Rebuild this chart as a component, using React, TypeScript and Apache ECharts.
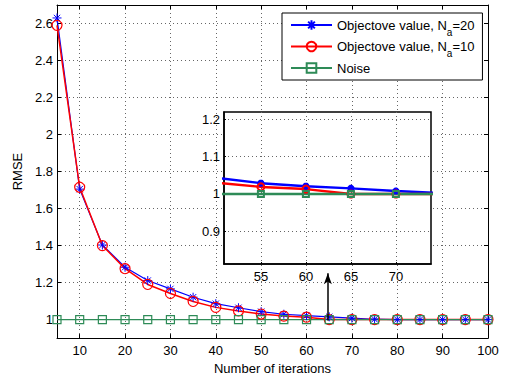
import React, { useEffect, useRef } from 'react';
import * as echarts from 'echarts';

const iterations = [5, 10, 15, 20, 25, 30, 35, 40, 45, 50, 55, 60, 65, 70, 75, 80, 85, 90, 95, 100];
const rmseNa20 = [2.63, 1.705, 1.403, 1.283, 1.211, 1.166, 1.121, 1.086, 1.064, 1.043, 1.029, 1.021, 1.015, 1.008, 1.002, 1.0, 1.0, 1.0, 1.0, 1.0];
const rmseNa10 = [2.59, 1.715, 1.4, 1.275, 1.19, 1.141, 1.098, 1.066, 1.047, 1.03, 1.019, 1.013, 1.0, 1.0, 1.0, 1.0, 1.0, 1.0, 1.0, 1.0];
const rmseNoise = [1, 1, 1, 1, 1, 1, 1, 1, 1, 1, 1, 1, 1, 1, 1, 1, 1, 1, 1, 1];

const seriesNames = ['Objectove value, N_a=20', 'Objectove value, N_a=10', 'Noise'];

const xTickValues = [10, 20, 30, 40, 50, 60, 70, 80, 90, 100];
const yTickValues = [1, 1.2, 1.4, 1.6, 1.8, 2, 2.2, 2.4, 2.6];
const insetXTickValues = [55, 60, 65, 70];
const insetYTickValues = [0.9, 1, 1.1, 1.2];

const arrowFrom = [64.7, 0.995];
const arrowTo = [64.7, 1.25];

const FONT = 'Liberation Sans, Arial, Helvetica, sans-serif';
const BLUE = '#0000ff';
const RED = '#ff0000';
const GREEN = '#2e8b57';
const GRIDLINE = { show: true, lineStyle: { color: '#666', width: 1, type: [1, 3] as any } };
const ASTERISK = 'path://M5,0L5,10M0,5L10,5M1.5,1.5L8.5,8.5M1.5,8.5L8.5,1.5';

function pairs(ys: number[]) {
  return iterations.map((x, i) => [x, ys[i]]);
}

export default function App() {
  const ref = useRef<HTMLDivElement>(null);
  useEffect(() => {
    document.body.style.margin = '0';
    if (!ref.current) return;
    const chart = echarts.init(ref.current, undefined, { renderer: 'svg' });

    const mainAxisCommon = {
      axisLine: { show: true, onZero: false, lineStyle: { color: '#000', width: 1 } },
    };

    const option: any = {
      animation: false,
      backgroundColor: '#fff',
      textStyle: { fontFamily: FONT },
      grid: [
        { left: 57, top: 5, width: 431, height: 337, show: false, z: 0 },
        { left: 224, top: 112, width: 207, height: 152, show: true, backgroundColor: '#fff', borderColor: '#000', borderWidth: 1.5, z: 1 },
      ],
      legend: {
        data: seriesNames,
        orient: 'vertical',
        left: 282,
        top: 13,
        padding: [0, 8, 0, 8],
        itemWidth: 41,
        itemHeight: 12,
        itemGap: -2.5,
        borderColor: '#000',
        borderWidth: 1,
        backgroundColor: '#fff',
        formatter: (name: string) => {
          const parts = name.split('_a');
          if (parts.length === 2) return `{b|${parts[0]}}{s|a}{b|${parts[1]}}`;
          return `{b|${name}}`;
        },
        textStyle: {
          fontFamily: FONT,
          fontSize: 13,
          color: '#000',
          lineHeight: 24,
          rich: {
            b: { fontFamily: FONT, fontSize: 13, color: '#000', lineHeight: 24, verticalAlign: 'middle' },
            s: { fontFamily: FONT, fontSize: 10, color: '#000', lineHeight: 8, verticalAlign: 'bottom' },
          },
        },
      },
      xAxis: [
        {
          type: 'value', gridIndex: 0, position: 'bottom', min: 5, max: 100, z: 0,
          ...mainAxisCommon,
          name: 'Number of iterations', nameLocation: 'middle', nameGap: 20,
          nameTextStyle: { fontFamily: FONT, fontSize: 13, color: '#000' },
          axisTick: { show: true, inside: true, length: 4, customValues: xTickValues, lineStyle: { color: '#000' } },
          axisLabel: { show: true, customValues: xTickValues, margin: 6, fontFamily: FONT, fontSize: 13, color: '#000' },
          splitLine: GRIDLINE,
        },
        {
          type: 'value', gridIndex: 0, position: 'top', min: 5, max: 100, z: 0,
          ...mainAxisCommon,
          axisTick: { show: true, inside: true, length: 4, customValues: xTickValues, lineStyle: { color: '#000' } },
          axisLabel: { show: false },
          splitLine: { show: false },
        },
        {
          type: 'value', gridIndex: 1, position: 'bottom', min: 50.9, max: 73.9, z: 1,
          axisLine: { show: true, onZero: false, lineStyle: { color: '#000', width: 1.5 } },
          axisTick: { show: true, inside: true, length: 2, customValues: insetXTickValues, lineStyle: { color: '#000' } },
          axisLabel: { show: true, customValues: insetXTickValues, margin: 6, fontFamily: FONT, fontSize: 13, color: '#000' },
          splitLine: GRIDLINE,
        },
      ],
      yAxis: [
        {
          type: 'value', gridIndex: 0, position: 'left', min: 0.9, max: 2.7, z: 0,
          ...mainAxisCommon,
          name: 'RMSE', nameLocation: 'middle', nameGap: 28,
          nameTextStyle: { fontFamily: FONT, fontSize: 13, color: '#000' },
          axisTick: { show: true, inside: true, length: 4, customValues: yTickValues, lineStyle: { color: '#000' } },
          axisLabel: { show: true, customValues: yTickValues, margin: 4, fontFamily: FONT, fontSize: 13, color: '#000' },
          splitLine: GRIDLINE,
        },
        {
          type: 'value', gridIndex: 0, position: 'right', min: 0.9, max: 2.7, z: 0,
          ...mainAxisCommon,
          axisTick: { show: true, inside: true, length: 4, customValues: yTickValues, lineStyle: { color: '#000' } },
          axisLabel: { show: false },
          splitLine: { show: false },
        },
        {
          type: 'value', gridIndex: 1, position: 'left', min: 0.813, max: 1.219, z: 1,
          axisLine: { show: true, onZero: false, lineStyle: { color: '#000', width: 1.5 } },
          axisTick: { show: true, inside: true, length: 2, customValues: insetYTickValues, lineStyle: { color: '#000' } },
          axisLabel: { show: true, customValues: insetYTickValues, margin: 4, fontFamily: FONT, fontSize: 13, color: '#000' },
          splitLine: GRIDLINE,
        },
      ],
      series: [
        {
          name: seriesNames[0], type: 'line', xAxisIndex: 0, yAxisIndex: 0, z: 2,
          data: pairs(rmseNa20), symbol: ASTERISK, symbolSize: 9,
          itemStyle: { color: BLUE, borderColor: BLUE, borderWidth: 1 },
          lineStyle: { color: BLUE, width: 1.2 },
        },
        {
          name: seriesNames[1], type: 'line', xAxisIndex: 0, yAxisIndex: 0, z: 2,
          data: pairs(rmseNa10), symbol: 'circle', symbolSize: 10,
          itemStyle: { color: 'rgba(255,255,255,0)', borderColor: RED, borderWidth: 1.2 },
          lineStyle: { color: RED, width: 1.5 },
        },
        {
          name: seriesNames[2], type: 'line', xAxisIndex: 0, yAxisIndex: 0, z: 2,
          data: pairs(rmseNoise), symbol: 'rect', symbolSize: 8,
          itemStyle: { color: 'rgba(255,255,255,0)', borderColor: GREEN, borderWidth: 1.2 },
          lineStyle: { color: GREEN, width: 1.2 },
          markLine: {
            silent: true,
            symbol: ['none', 'arrow'],
            symbolSize: [6, 11],
            label: { show: false },
            lineStyle: { color: '#000', width: 1.5, type: 'solid' },
            data: [[{ coord: arrowFrom }, { coord: arrowTo }]],
          },
        },
        {
          name: 'inset20', type: 'line', xAxisIndex: 2, yAxisIndex: 2, z: 3, clip: true,
          data: pairs(rmseNa20), symbol: ASTERISK, symbolSize: 7,
          itemStyle: { color: BLUE, borderColor: BLUE, borderWidth: 2.5 },
          lineStyle: { color: BLUE, width: 2.5 },
        },
        {
          name: 'inset10', type: 'line', xAxisIndex: 2, yAxisIndex: 2, z: 3, clip: true,
          data: pairs(rmseNa10), symbol: 'circle', symbolSize: 7,
          itemStyle: { color: 'rgba(255,255,255,0)', borderColor: RED, borderWidth: 2 },
          lineStyle: { color: RED, width: 2.5 },
        },
        {
          name: 'insetNoise', type: 'line', xAxisIndex: 2, yAxisIndex: 2, z: 3, clip: true,
          data: pairs(rmseNoise), symbol: 'rect', symbolSize: 6,
          itemStyle: { color: 'rgba(255,255,255,0)', borderColor: GREEN, borderWidth: 2 },
          lineStyle: { color: GREEN, width: 2.5 },
        },
      ],
    };
    chart.setOption(option);
    return () => chart.dispose();
  }, []);
  return <div ref={ref} style={{ width: 505, height: 380 }} />;
}
